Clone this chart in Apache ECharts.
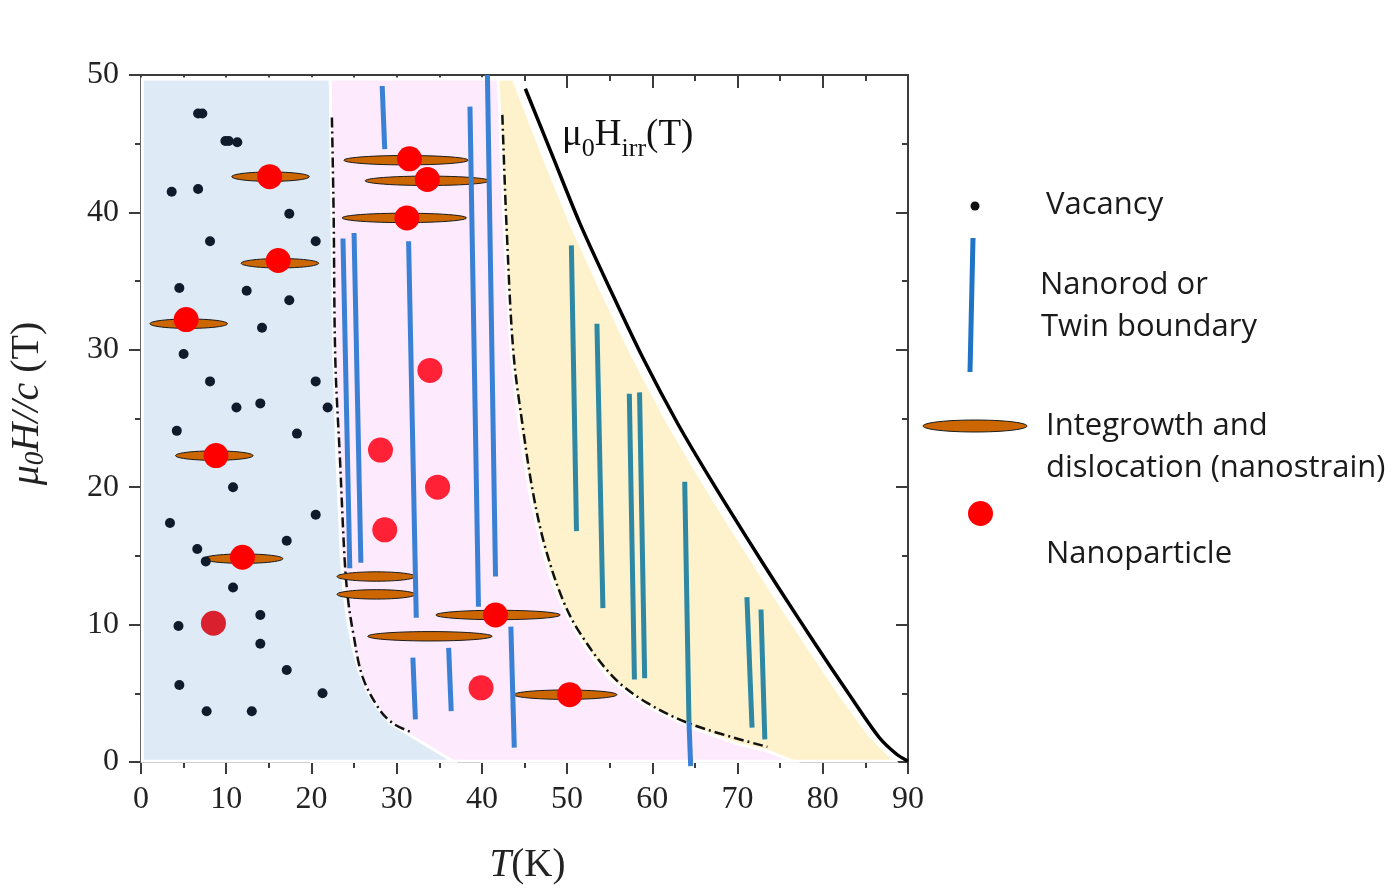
<!DOCTYPE html>
<html>
<head>
<meta charset="utf-8">
<title>Pinning phase diagram</title>
<script src="https://cdn.jsdelivr.net/npm/echarts@6/dist/echarts.min.js"></script>
<style>
  html, body { margin: 0; padding: 0; background: #fff; }
  #chart { width: 1396px; height: 888px; }
</style>
</head>
<body>
<div id="chart"></div>
<script>
// all points are [T (K), mu0H (T)]

// shaded regions (drawn yellow, pink, blue)
var yellowRegion = [[40, 49.7], [43.7, 49.7], [47.2, 44.1], [50.4, 39.2], [54.1, 34.2], [57.8, 29.4],
  [61.9, 24.6], [65.9, 20.4], [69.9, 16.4], [73.9, 12.5], [77.9, 8.7], [81.9, 5.0], [85.4, 2.0],
  [87.3, 0.8], [88.5, 0.05], [40, 0.05]];
var pinkRegion = [[20, 49.7], [41.9, 49.7], [42.1, 47], [42.6, 39], [43.4, 30], [44.4, 24.4], [45.6, 19.6],
  [47.0, 15.7], [48.0, 13.6], [49.1, 11.8], [51.1, 9.4], [53.0, 7.6], [55.1, 6.0], [59.2, 4.1],
  [64.6, 2.5], [70.0, 1.3], [73.5, 0.8], [76.5, 0.05], [20, 0.05]];
var blueRegion = [[0.15, 49.7], [22.2, 49.7], [22.4, 40], [22.6, 30], [23.0, 22], [23.5, 15], [23.8, 12.5],
  [24.2, 10.5], [24.8, 8.5], [25.6, 6.6], [26.6, 5.1], [27.8, 3.9], [29.3, 2.8], [36.6, 0.05], [0.15, 0.05]];

// dash-dot crossover lines and irreversibility line
var crossLow = [[22.4, 46.9], [22.6, 40], [22.8, 29.3], [23.35, 22.0], [23.9, 14.7], [24.3, 11.8],
  [24.9, 9.4], [26.0, 6.2], [28.0, 3.8], [29.6, 2.8], [31.6, 2.2]];
var crossHigh = [[42.4, 47.1], [42.9, 38.9], [43.7, 29.8], [44.8, 24.4], [46.0, 19.6], [47.4, 15.7],
  [49.5, 11.8], [51.5, 9.4], [55.4, 6.2], [59.4, 4.3], [64.8, 2.7], [73.5, 1.1]];
var hirr = [[45.1, 49.0], [48.3, 44.1], [51.5, 39.2], [55.2, 34.2], [58.9, 29.4], [63.0, 24.6],
  [67.0, 20.4], [71.0, 16.4], [75.0, 12.5], [79.0, 8.7], [83.0, 5.0], [86.6, 1.8], [88.6, 0.6], [90.0, 0.05]];

// point defects
var vacancies = [[6.7, 47.2], [7.2, 47.2], [9.9, 45.2], [10.3, 45.2], [11.3, 45.1], [3.6, 41.5], [6.7, 41.7],
  [17.4, 39.9], [8.1, 37.9], [20.5, 37.9], [4.5, 34.5], [12.4, 34.3], [17.4, 33.6], [14.2, 31.6],
  [5.0, 29.7], [8.1, 27.7], [20.5, 27.7], [11.2, 25.8], [14.0, 26.1], [21.9, 25.8], [4.2, 24.1],
  [18.3, 23.9], [10.8, 20.0], [3.4, 17.4], [20.5, 18.0], [6.6, 15.5], [17.1, 16.1], [7.6, 14.6],
  [10.8, 12.7], [14.0, 10.7], [4.4, 9.9], [14.0, 8.6], [17.1, 6.7], [4.5, 5.6], [21.3, 5.0],
  [7.7, 3.7], [13.0, 3.7]];

// nanoparticles
var particlesOnStrain = [[15.1, 42.6], [16.1, 36.5], [5.3, 32.2], [31.5, 43.9], [33.6, 42.4], [31.2, 39.6],
  [8.8, 22.3], [11.9, 14.9], [41.6, 10.7], [50.3, 4.9]];
var particlesFree = [[33.9, 28.5], [28.1, 22.7], [34.8, 20.0], [28.6, 16.9], [39.9, 5.4]];
var particlesDark = [[8.5, 10.1]];

// nanostrain: [T centre, H, extent in T]
var strains = [[15.2, 42.6, 9.1], [16.3, 36.3, 9.1], [5.6, 31.9, 9.1], [31.1, 43.8, 14.6], [33.6, 42.3, 14.6],
  [30.9, 39.6, 14.6], [8.6, 22.3, 9.1], [12.0, 14.8, 9.3], [27.6, 13.5, 9.2], [27.6, 12.2, 9.2],
  [41.9, 10.7, 14.6], [33.9, 9.15, 14.6], [49.8, 4.9, 12.1]];

// nanorods / twin boundaries: [T top, H top, T bottom, H bottom]
var rodsBlue = [[28.3, 49.2, 28.6, 44.6], [38.6, 47.7, 39.6, 11.3], [40.65, 50.0, 41.6, 13.5],
  [23.7, 38.1, 24.5, 14.1], [25.0, 38.5, 25.8, 14.5], [31.4, 37.9, 32.3, 10.5], [31.9, 7.6, 32.2, 3.1],
  [36.1, 8.3, 36.4, 3.7], [43.4, 9.85, 43.8, 1.05], [64.3, 2.9, 64.5, -0.3]];
var rodsTeal = [[50.5, 37.6, 51.1, 16.8], [53.5, 31.9, 54.2, 11.2], [57.3, 26.8, 57.9, 6.0],
  [58.5, 26.9, 59.1, 6.1], [63.8, 20.4, 64.3, 2.9], [71.1, 12.0, 71.7, 2.5], [72.75, 11.1, 73.2, 1.65]];

var xTicks = [0, 90, 10];
var yTicks = [0, 50, 10];

var regions = [yellowRegion, pinkRegion, blueRegion];
var regionColors = ['#fef2cd', '#fdeafc', '#deeaf6'];

var serif = 'Liberation Serif';
var sans = 'Open Sans';

function ellipsePoints(cx, cy, rx, ry) {
  var pts = [];
  for (var k = 0; k < 48; k++) {
    var a = k / 48 * Math.PI * 2;
    pts.push([cx + rx * Math.cos(a), cy + ry * Math.sin(a)]);
  }
  return pts;
}

function rodSeries(data, color) {
  return {
    type: 'custom',
    data: data,
    encode: { x: [0, 2], y: [1, 3] },
    z: 6,
    clip: false,
    renderItem: function (params, api) {
      var a = api.coord([api.value(0), api.value(1)]);
      var b = api.coord([api.value(2), api.value(3)]);
      return {
        type: 'line',
        shape: { x1: a[0], y1: a[1], x2: b[0], y2: b[1] },
        style: { stroke: color, lineWidth: 5, lineCap: 'butt' }
      };
    }
  };
}

function crossSeries(data) {
  return {
    type: 'line',
    data: data,
    symbol: 'none',
    smooth: 0.35,
    z: 3,
    lineStyle: { color: '#111', width: 2.5, type: [10, 4, 2, 4] }
  };
}

function particleSeries(data, color) {
  return {
    type: 'scatter',
    data: data,
    symbolSize: 25,
    z: 8,
    itemStyle: { color: color, opacity: 1 }
  };
}

function axisCommon(extra) {
  var base = {
    type: 'value',
    splitLine: { show: false },
    axisLine: { show: true, onZero: false, lineStyle: { color: '#3c3c3c', width: 2 } },
    axisTick: { show: true, length: 12, lineStyle: { color: '#3c3c3c', width: 2 } },
    minorTick: { show: true, splitNumber: 2, length: 6, lineStyle: { color: '#3c3c3c', width: 2 } },
    axisLabel: { fontFamily: serif, fontSize: 32, color: '#222' }
  };
  return Object.assign(base, extra);
}

var chart = echarts.init(document.getElementById('chart'));

chart.setOption({
  animation: false,
  backgroundColor: '#fff',
  grid: { left: 141, right: 488, top: 75, bottom: 126, outerBoundsMode: 'none', containLabel: false },
  xAxis: [
    axisCommon({
      min: xTicks[0], max: xTicks[1], interval: xTicks[2], position: 'bottom',
      axisLabel: { fontFamily: serif, fontSize: 32, color: '#222', margin: 22 },
      name: '{i|T}{r|(K)}',
      nameLocation: 'middle',
      nameGap: 84,
      nameTextStyle: {
        padding: [0, 0, 0, 6],
        rich: {
          i: { fontFamily: serif, fontStyle: 'italic', fontSize: 39, color: '#222' },
          r: { fontFamily: serif, fontSize: 39, color: '#222' }
        }
      }
    }),
    axisCommon({
      min: xTicks[0], max: xTicks[1], interval: xTicks[2], position: 'top',
      axisTick: { show: true, inside: true, length: 13, lineStyle: { color: '#3c3c3c', width: 2 } },
      minorTick: { show: true, splitNumber: 2, length: 6, lineStyle: { color: '#3c3c3c', width: 2 } },
      axisLabel: { show: false }
    })
  ],
  yAxis: [
    axisCommon({
      min: yTicks[0], max: yTicks[1], interval: yTicks[2], position: 'left',
      axisLabel: { fontFamily: serif, fontSize: 32, color: '#222', margin: 22 },
      name: '{i|μ}{s|0}{i|H//c}{r| (T)}',
      nameLocation: 'middle',
      nameRotate: 90,
      nameGap: 92,
      nameTextStyle: {
        padding: [0, 0, 0, 30],
        rich: {
          i: { fontFamily: serif, fontStyle: 'italic', fontSize: 40, lineHeight: 44, color: '#222' },
          s: { fontFamily: serif, fontStyle: 'italic', fontSize: 27, lineHeight: 27, verticalAlign: 'bottom', color: '#222' },
          r: { fontFamily: serif, fontSize: 40, lineHeight: 44, color: '#222' }
        }
      }
    }),
    axisCommon({
      min: yTicks[0], max: yTicks[1], interval: yTicks[2], position: 'right',
      axisTick: { show: true, inside: true, length: 12, lineStyle: { color: '#3c3c3c', width: 2 } },
      minorTick: { show: true, splitNumber: 2, length: 6, lineStyle: { color: '#3c3c3c', width: 2 } },
      axisLabel: { show: false }
    })
  ],
  series: [
    {
      type: 'custom',
      data: regions.map(function (r, i) { return [i, 0]; }),
      z: 1,
      silent: true,
      renderItem: function (params, api) {
        var poly = regions[params.dataIndex];
        return {
          type: 'polygon',
          shape: { points: poly.map(function (p) { return api.coord(p); }) },
          style: { fill: regionColors[params.dataIndex], stroke: '#fff', lineWidth: 3 }
        };
      }
    },
    crossSeries(crossLow),
    crossSeries(crossHigh),
    {
      type: 'line',
      data: hirr,
      symbol: 'none',
      smooth: 0.3,
      z: 3,
      lineStyle: { color: '#000', width: 3.5 },
      markPoint: {
        symbol: 'circle',
        symbolSize: 0,
        data: [{ coord: [49.4, 45.6] }],
        label: {
          show: true,
          position: 'right',
          distance: 0,
          formatter: '{m|μ}{s|0}{m|H}{s|irr}{m|(T)}',
          rich: {
            m: { fontFamily: serif, fontSize: 37, lineHeight: 54, color: '#111' },
            s: { fontFamily: serif, fontSize: 26, lineHeight: 26, verticalAlign: 'bottom', color: '#111' }
          }
        }
      }
    },
    {
      type: 'custom',
      data: strains,
      encode: { x: 0, y: 1 },
      z: 5,
      renderItem: function (params, api) {
        var c = api.coord([api.value(0), api.value(1)]);
        var r = api.coord([api.value(0) + api.value(2) / 2, api.value(1)]);
        return {
          type: 'polygon',
          shape: { points: ellipsePoints(c[0], c[1], r[0] - c[0], 4.7) },
          style: { fill: '#cc6600', stroke: '#1b1b1b', lineWidth: 1 }
        };
      }
    },
    rodSeries(rodsBlue, '#3a80d4'),
    rodSeries(rodsTeal, '#2e88a3'),
    {
      type: 'scatter',
      data: vacancies,
      symbolSize: 10,
      z: 7,
      itemStyle: { color: '#0f1b2b', opacity: 1 }
    },
    particleSeries(particlesOnStrain, '#ff0000'),
    particleSeries(particlesFree, '#ff2136'),
    particleSeries(particlesDark, '#d9202e')
  ],
  graphic: [
    { type: 'circle', shape: { cx: 975, cy: 206, r: 4.5 }, style: { fill: '#111' } },
    { type: 'line', shape: { x1: 973, y1: 238, x2: 970, y2: 372 }, style: { stroke: '#1f74c6', lineWidth: 5 } },
    { type: 'polygon', shape: { points: ellipsePoints(975, 426, 52, 6) }, style: { fill: '#cc6600', stroke: '#1b1b1b', lineWidth: 1 } },
    { type: 'circle', shape: { cx: 980.5, cy: 513.5, r: 12.5 }, style: { fill: '#ff0000' } },
    { type: 'text', x: 1046, y: 205, style: { text: 'Vacancy', fontFamily: sans, fontSize: 31, fill: '#1a1a1a', verticalAlign: 'middle' } },
    { type: 'text', x: 1040, y: 285, style: { text: 'Nanorod or', fontFamily: sans, fontSize: 31, fill: '#1a1a1a', verticalAlign: 'middle' } },
    { type: 'text', x: 1041, y: 327, style: { text: 'Twin boundary', fontFamily: sans, fontSize: 31, fill: '#1a1a1a', verticalAlign: 'middle' } },
    { type: 'text', x: 1046, y: 426, style: { text: 'Integrowth and', fontFamily: sans, fontSize: 31, fill: '#1a1a1a', verticalAlign: 'middle' } },
    { type: 'text', x: 1046, y: 468, style: { text: 'dislocation (nanostrain)', fontFamily: sans, fontSize: 31, fill: '#1a1a1a', verticalAlign: 'middle' } },
    { type: 'text', x: 1046, y: 554, style: { text: 'Nanoparticle', fontFamily: sans, fontSize: 31, fill: '#1a1a1a', verticalAlign: 'middle' } }
  ]
});
</script>
</body>
</html>
